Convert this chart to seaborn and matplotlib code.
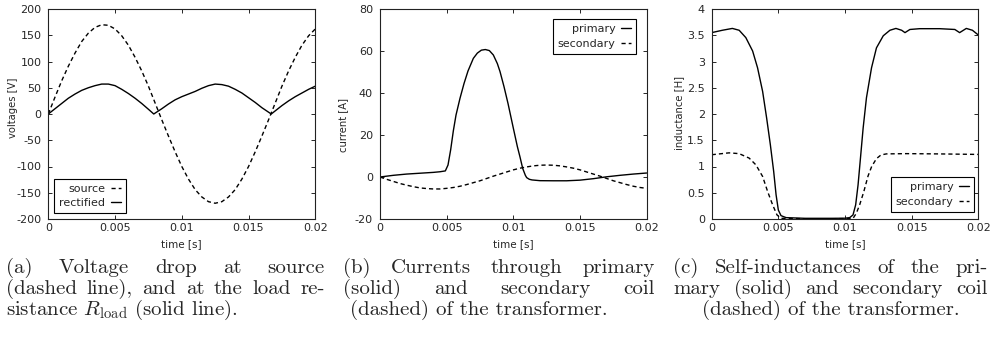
import matplotlib
matplotlib.use("Agg")
import matplotlib.pyplot as plt
import seaborn as sns

# --- data -------------------------------------------------------------------
# common time grid (s)
t_grid = [0, 0.0005, 0.001, 0.0015, 0.002, 0.0025, 0.003, 0.0035, 0.004, 0.0045,
          0.005, 0.0055, 0.006, 0.0065, 0.007, 0.0075, 0.008, 0.0085, 0.009, 0.0095,
          0.01, 0.0105, 0.011, 0.0115, 0.012, 0.0125, 0.013, 0.0135, 0.014, 0.0145,
          0.015, 0.0155, 0.016, 0.0165, 0.017, 0.0175, 0.018, 0.0185, 0.019, 0.0195,
          0.02]

# (a) voltages [V]
v_source = [0, 32, 63, 91, 116, 138, 154, 165, 170, 169,
            162, 149, 131, 108, 82, 53, 21, -11, -42, -72,
            -100, -124, -144, -158, -167, -170, -167, -158, -144, -124,
            -100, -72, -42, -11, 21, 53, 82, 108, 131, 149,
            162]
t_rect = [0, 0.0005, 0.001, 0.0015, 0.002, 0.0025, 0.003, 0.0035, 0.004, 0.0045,
          0.005, 0.0055, 0.006, 0.0065, 0.007, 0.0075, 0.0079, 0.0085, 0.009, 0.0095,
          0.01, 0.0105, 0.011, 0.0115, 0.012, 0.0125, 0.013, 0.0135, 0.014, 0.0145,
          0.015, 0.0155, 0.016, 0.0167, 0.017, 0.0175, 0.018, 0.0185, 0.019, 0.0195,
          0.02]
v_rect = [0, 10, 20, 30, 38, 45, 50, 54, 57, 57,
          54, 47, 39, 30, 20, 9, 0, 10, 19, 27,
          33, 38, 43, 49, 54, 57, 56, 53, 47, 40,
          31, 22, 12, 0, 6, 16, 25, 33, 40, 47,
          53]

# (b) currents [A]
t_prim = [0, 0.001, 0.002, 0.003, 0.004, 0.0045, 0.0049, 0.0051, 0.0053, 0.0055,
          0.0057, 0.006, 0.0063, 0.0066, 0.007, 0.0073, 0.0076, 0.0079, 0.0082, 0.0085,
          0.0088, 0.009, 0.0093, 0.0096, 0.01, 0.0103, 0.0105, 0.0107, 0.0109, 0.011,
          0.0112, 0.0114, 0.012, 0.013, 0.014, 0.015, 0.016, 0.017, 0.018, 0.019,
          0.02]
i_primary = [0, 0.8, 1.4, 1.8, 2.2, 2.5, 2.9, 5.7, 13, 22,
             29.5, 37.5, 44.5, 50.5, 56.5, 59, 60.4, 60.7, 60.2, 58.1,
             54, 50.2, 43, 35, 23.2, 14.5, 9.5, 4.1, 0.8, -0.3,
             -1.1, -1.4, -1.75, -1.8, -1.8, -1.5, -0.8, 0.1, 0.8, 1.4,
             1.9]
i_secondary = [0, -1.1, -2.1, -3.1, -3.9, -4.6, -5.2, -5.5, -5.7, -5.7,
               -5.4, -5.0, -4.4, -3.6, -2.7, -1.8, -0.7, 0.4, 1.4, 2.4,
               3.4, 4.2, 4.8, 5.3, 5.6, 5.7, 5.6, 5.3, 4.8, 4.2,
               3.4, 2.4, 1.4, 0.4, -0.7, -1.8, -2.7, -3.6, -4.4, -5.0,
               -5.4]

# (c) self-inductances [H]
t_ind_p = [0, 0.0008, 0.00155, 0.00206, 0.00256, 0.00307, 0.00344, 0.00382, 0.00412, 0.0044,
           0.00465, 0.00483, 0.005, 0.0052, 0.00558, 0.007, 0.009, 0.01, 0.01035, 0.0106,
           0.0108, 0.01098, 0.01116, 0.01136, 0.01161, 0.01199, 0.01236, 0.01287, 0.01337, 0.01382,
           0.01425, 0.0145, 0.01487, 0.0156, 0.0171, 0.01824, 0.0186, 0.0191, 0.01956, 0.02]
L_primary = [3.55, 3.595, 3.63, 3.595, 3.455, 3.2, 2.88, 2.43, 1.925, 1.415,
             0.905, 0.46, 0.17, 0.064, 0.026, 0.013, 0.013, 0.015, 0.026, 0.077,
             0.27, 0.65, 1.16, 1.73, 2.31, 2.88, 3.26, 3.49, 3.595, 3.63,
             3.595, 3.55, 3.61, 3.625, 3.625, 3.61, 3.55, 3.63, 3.595, 3.505]
t_ind_s = [0, 0.0013, 0.00206, 0.00281, 0.00332, 0.00382, 0.0042, 0.00457, 0.0049, 0.0052,
           0.007, 0.009, 0.0106, 0.01085, 0.0111, 0.01141, 0.01173, 0.012, 0.01236, 0.0127,
           0.0131, 0.0146, 0.017, 0.02]
L_secondary = [1.224, 1.26, 1.245, 1.16, 1.03, 0.81, 0.52, 0.27, 0.077, 0.013,
               0.005, 0.005, 0.01, 0.11, 0.27, 0.52, 0.82, 1.0, 1.15, 1.22,
               1.24, 1.245, 1.24, 1.23]

x_ticks = [0, 0.005, 0.01, 0.015, 0.02]
x_ticklabels = ["0", "0.005", "0.01", "0.015", "0.02"]
volt_ticks = [-200, -150, -100, -50, 0, 50, 100, 150, 200]
curr_ticks = [-20, 0, 20, 40, 60, 80]
ind_ticks = [0, 0.5, 1, 1.5, 2, 2.5, 3, 3.5, 4]
ind_ticklabels = ["0", "0.5", "1", "1.5", "2", "2.5", "3", "3.5", "4"]

captions = {
    "a": ["(a) Voltage drop at source",
          "(dashed line), and at the load re-",
          r"sistance $R_{\rm load}$ (solid line)."],
    "b": ["(b) Currents through primary",
          "(solid) and secondary coil",
          "(dashed) of the transformer."],
    "c": ["(c) Self-inductances of the pri-",
          "mary (solid) and secondary coil",
          "(dashed) of the transformer."],
}

# --- style ------------------------------------------------------------------
sns.set_theme(style="ticks")
plt.rcParams.update({
    "font.family": ["DejaVu Sans"],
    "axes.unicode_minus": False,
    "axes.edgecolor": "#222222",
    "axes.linewidth": 0.8,
    "xtick.direction": "in",
    "ytick.direction": "in",
    "xtick.top": True,
    "ytick.right": True,
    "xtick.major.size": 3,
    "ytick.major.size": 3,
    "xtick.major.width": 0.7,
    "ytick.major.width": 0.7,
    "xtick.labelsize": 8,
    "ytick.labelsize": 8,
    "xtick.major.pad": 2.7,
    "ytick.major.pad": 5,
    "mathtext.fontset": "cm",
})

DASH = (0, (3, 2.2))
W, H = 990, 339
fig = plt.figure(figsize=(W / 100, H / 100), dpi=100)

ax_bottom = (H - 219) / H
ax_height = 210 / H
ax_a = fig.add_axes([48.3 / W, ax_bottom, 267 / W, ax_height])
ax_b = fig.add_axes([380 / W, ax_bottom, 266.7 / W, ax_height])
ax_c = fig.add_axes([711.7 / W, ax_bottom, 266.6 / W, ax_height])

line_kw = dict(color="black", linewidth=1.0, estimator=None)

# (a)
sns.lineplot(x=t_grid, y=v_source, ax=ax_a, linestyle=DASH, label="source", **line_kw)
sns.lineplot(x=t_rect, y=v_rect, ax=ax_a, label="rectified", **line_kw)
ax_a.set_ylim(-200, 200)
ax_a.set_yticks(volt_ticks)
ax_a.set_ylabel("voltages [V]", fontsize=7.2)
ax_a.yaxis.set_label_coords(-0.115, 0.53)

# (b)
sns.lineplot(x=t_prim, y=i_primary, ax=ax_b, label="primary", **line_kw)
sns.lineplot(x=t_grid, y=i_secondary, ax=ax_b, linestyle=DASH, label="secondary", **line_kw)
ax_b.set_ylim(-20, 80)
ax_b.set_yticks(curr_ticks)
ax_b.set_ylabel("current [A]", fontsize=7.2)
ax_b.yaxis.set_label_coords(-0.12, 0.45)

# (c)
sns.lineplot(x=t_ind_p, y=L_primary, ax=ax_c, label="primary", **line_kw)
sns.lineplot(x=t_ind_s, y=L_secondary, ax=ax_c, linestyle=DASH, label="secondary", **line_kw)
ax_c.set_ylim(0, 4)
ax_c.set_yticks(ind_ticks, labels=ind_ticklabels)
ax_c.set_ylabel("inductance [H]", fontsize=7.2)
ax_c.yaxis.set_label_coords(-0.104, 0.507)

leg_kw = dict(fontsize=8, markerfirst=False, frameon=True, fancybox=False,
              framealpha=1, edgecolor="black", handlelength=0.9, handletextpad=0.5,
              borderpad=0.45, labelspacing=0.4, borderaxespad=0)
ax_a.legend(loc="lower left", bbox_to_anchor=(0.022, 0.028), **leg_kw)
ax_b.legend(loc="upper right", bbox_to_anchor=(0.96, 0.951), **leg_kw)
ax_c.legend(loc="lower right", bbox_to_anchor=(0.985, 0.035), **leg_kw)

for ax in (ax_a, ax_b, ax_c):
    ax.set_xlim(0, 0.02)
    ax.set_xticks(x_ticks, labels=x_ticklabels)
    ax.set_xlabel("time [s]", fontsize=7.5)
    ax.xaxis.set_label_coords(0.5, -0.095)
    ax.get_legend().get_frame().set_linewidth(0.8)

# --- captions (justified like the LaTeX subcaptions) ------------------------
renderer = fig.canvas.get_renderer()
CAP_SIZE = 15
baselines = [273, 294, 315]
columns = {"a": (6, 325, 6), "b": (343, 655, 350), "c": (673, 988, 702)}


def justified(words_line, x0, x1, y_px):
    words = words_line.split(" ")
    arts = [fig.text(0, 1 - y_px / H, w, fontsize=CAP_SIZE, family="cmr10",
                     va="baseline", ha="left") for w in words]
    widths = [a.get_window_extent(renderer).width for a in arts]
    gap = (x1 - x0 - sum(widths)) / (len(words) - 1)
    x = x0
    for a, w in zip(arts, widths):
        a.set_x(x / W)
        x += w + gap


for key, lines in captions.items():
    x0, x1, x_last = columns[key]
    justified(lines[0], x0, x1, baselines[0])
    justified(lines[1], x0, x1, baselines[1])
    fig.text(x_last / W, 1 - baselines[2] / H, lines[2], fontsize=CAP_SIZE,
             family="cmr10", va="baseline", ha="left")

fig.savefig("out.png", dpi=100)
